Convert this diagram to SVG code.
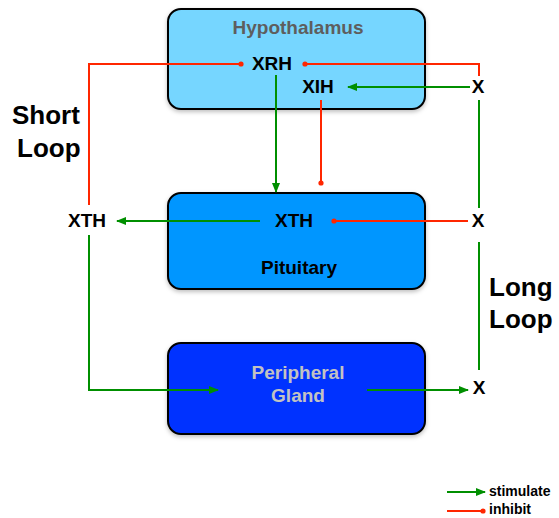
<svg xmlns="http://www.w3.org/2000/svg" width="559" height="518" viewBox="0 0 559 518">
  <style>
    text { font-family: "Liberation Sans", Arial, sans-serif; font-weight: bold; }
    .box { stroke: #000; stroke-width: 2; }
    .lbl { font-size: 19px; fill: #000; }
    .loop { font-size: 26px; fill: #000; }
    .leg { font-size: 14px; fill: #000; }
    .stim { stroke: #008F00; stroke-width: 2; fill: none; }
    .inhib { stroke: #FF2600; stroke-width: 2; fill: none; }
  </style>
  <defs>
    <filter id="shadow" x="-10%" y="-10%" width="120%" height="130%">
      <feDropShadow dx="0" dy="2" stdDeviation="2" flood-color="#000" flood-opacity="0.25"/>
    </filter>
    <marker id="arrow" markerWidth="10" markerHeight="8" refX="9" refY="4" orient="auto" markerUnits="userSpaceOnUse">
      <path d="M0,0 L10,4 L0,8 Z" fill="#008F00"/>
    </marker>
    <marker id="dot" markerWidth="6" markerHeight="6" refX="3" refY="3" orient="auto" markerUnits="userSpaceOnUse">
      <circle cx="3" cy="3" r="2.6" fill="#FF2600"/>
    </marker>
  </defs>

  <rect width="559" height="518" fill="#fff"/>

  <!-- Hypothalamus -->
  <g id="hypothalamus">
    <rect class="box" x="168" y="9" width="257" height="100" rx="13" fill="#76D6FF" filter="url(#shadow)"/>
    <text x="298" y="34" text-anchor="middle" font-size="19" fill="#5E5E5E">Hypothalamus</text>
    <text class="lbl" x="272" y="70" text-anchor="middle">XRH</text>
    <text class="lbl" x="318" y="93" text-anchor="middle">XIH</text>
  </g>

  <!-- Pituitary -->
  <g id="pituitary">
    <rect class="box" x="168" y="193" width="257" height="96" rx="13" fill="#0096FF" filter="url(#shadow)"/>
    <text class="lbl" x="294" y="227" text-anchor="middle">XTH</text>
    <text class="lbl" x="299" y="274" text-anchor="middle">Pituitary</text>
  </g>

  <!-- Peripheral gland -->
  <g id="peripheral">
    <rect class="box" x="168" y="343" width="257" height="91" rx="13" fill="#0433FF" filter="url(#shadow)"/>
    <text x="298" y="379" text-anchor="middle" font-size="19" fill="#C2C2C2">Peripheral</text>
    <text x="298" y="402" text-anchor="middle" font-size="19" fill="#C2C2C2">Gland</text>
  </g>

  <!-- Free-standing hormone labels -->
  <g id="x-top"><text class="lbl" x="478" y="93" text-anchor="middle">X</text></g>
  <g id="x-mid"><text class="lbl" x="478" y="227" text-anchor="middle">X</text></g>
  <g id="x-bottom"><text class="lbl" x="479" y="394" text-anchor="middle">X</text></g>
  <g id="xth-left"><text class="lbl" x="87" y="227" text-anchor="middle">XTH</text></g>

  <!-- Loop captions -->
  <g id="short-loop">
    <text class="loop" x="12" y="124">Short</text>
    <text class="loop" x="17" y="157">Loop</text>
  </g>
  <g id="long-loop">
    <text class="loop" x="489" y="296">Long</text>
    <text class="loop" x="489" y="328">Loop</text>
  </g>

  <!-- Connectors -->
  <g id="connectors">
    <!-- short loop: XTH inhibits XRH -->
    <path class="inhib" d="M89,205 L89,64 L241,64" marker-end="url(#dot)"/>
    <!-- long loop: X inhibits XRH -->
    <path class="inhib" d="M479,76 L479,64 L305,64" marker-end="url(#dot)"/>
    <!-- X stimulates XIH -->
    <path class="stim" d="M470,87 L348,87" marker-end="url(#arrow)"/>
    <!-- XRH stimulates pituitary -->
    <path class="stim" d="M276,75 L276,192" marker-end="url(#arrow)"/>
    <!-- XIH inhibits pituitary -->
    <path class="inhib" d="M321,100 L321,183" marker-end="url(#dot)"/>
    <!-- long loop vertical runs -->
    <path class="stim" d="M479,100 L479,208"/>
    <path class="stim" d="M479,370 L479,242"/>
    <!-- X inhibits pituitary XTH -->
    <path class="inhib" d="M468,221 L334,221" marker-end="url(#dot)"/>
    <!-- XTH released -->
    <path class="stim" d="M260,221 L117,221" marker-end="url(#arrow)"/>
    <!-- XTH stimulates peripheral gland -->
    <path class="stim" d="M89,235 L89,390 L218,390" marker-end="url(#arrow)"/>
    <!-- peripheral gland releases X -->
    <path class="stim" d="M367,390 L468,390" marker-end="url(#arrow)"/>
  </g>

  <!-- Legend -->
  <g id="legend">
    <path class="stim" d="M447,492 L485,492" marker-end="url(#arrow)"/>
    <text class="leg" x="489" y="496">stimulate</text>
    <path class="inhib" d="M447,511 L483,511" marker-end="url(#dot)"/>
    <text class="leg" x="489" y="514">inhibit</text>
  </g>
</svg>
